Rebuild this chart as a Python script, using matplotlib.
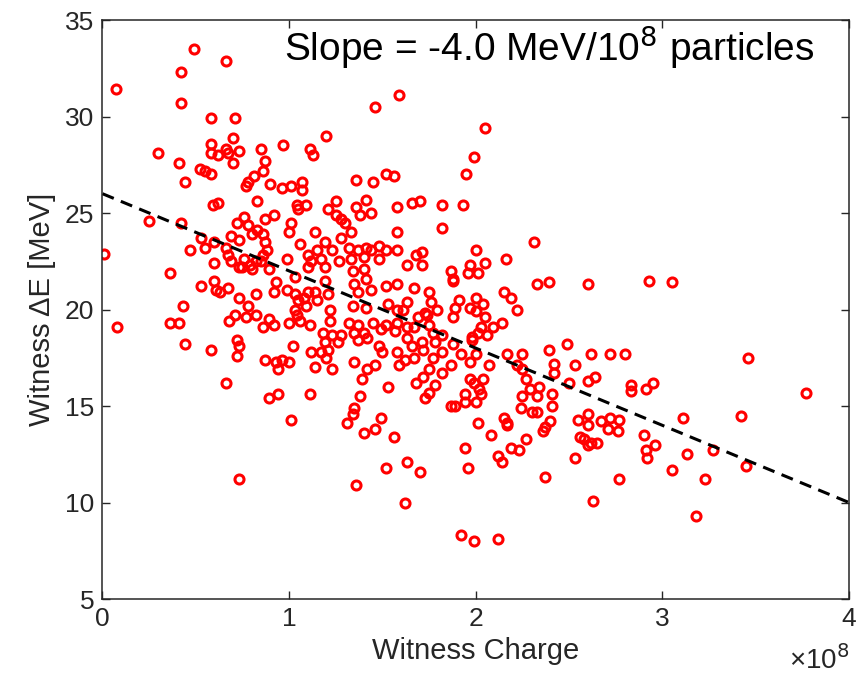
import matplotlib

matplotlib.use("Agg")
import matplotlib.pyplot as plt
import numpy as np

plt.rcParams["font.family"] = ["Liberation Sans", "DejaVu Sans"]

# witness charge (units of 1e8) and energy change (MeV)
charge = [
    0.07, 0.49, 0.66, 0.42, 0.42, 0.58, 0.71, 0.30, 0.41, 0.44, 0.58, 0.70,
    0.58, 0.62, 0.66, 0.67, 0.73, 0.70, 0.52, 0.55, 0.58, 0.85, 0.87, 0.86,
    0.81, 0.78, 0.77, 0.90, 0.96, 1.01, 1.07, 1.07, 0.97, 1.11, 1.13, 1.20,
    0.59, 0.62, 0.83, 1.04, 1.09, 1.05, 1.25, 0.25, 0.42, 0.01, 0.47, 0.36,
    0.53, 0.55, 0.60, 0.60, 0.72, 0.76, 0.78, 0.87, 0.92, 1.01, 1.00, 0.80,
    0.83, 0.86, 0.69, 0.73, 0.66, 0.67, 0.69, 0.73, 0.76, 0.79, 0.82, 0.85,
    0.87, 0.88, 0.86, 0.89, 0.80, 0.75, 0.99, 1.06, 1.03, 1.14, 1.19, 1.23,
    1.15, 1.10, 1.12, 1.17, 1.19, 1.10, 1.27, 1.21, 1.25, 1.28, 1.28, 0.93,
    0.92, 0.99, 1.03, 1.05, 1.08, 1.10, 1.14, 1.15, 1.21, 1.19, 1.03, 1.04,
    1.09, 0.53, 0.60, 0.61, 0.67, 0.63, 0.82, 0.73, 0.78, 0.82, 0.77, 0.71,
    0.68, 0.89, 0.92, 0.86, 1.00, 1.06, 1.11, 1.22, 1.22, 0.43, 0.36, 0.41,
    0.08, 0.44, 0.58, 0.72, 0.73, 0.72, 0.87, 0.93, 0.96, 0.94, 1.00, 1.02,
    1.12, 1.18, 1.23, 1.28, 1.19, 1.21, 1.26, 1.17, 1.20, 1.14, 1.23, 0.66,
    0.89, 0.94, 1.11, 1.01, 0.73,
    1.46, 1.59, 2.05, 1.99, 1.95, 1.36, 1.45, 1.52, 1.56,
    1.36, 1.41, 1.38, 1.44, 1.58, 1.66, 1.70, 1.82, 1.93, 1.30, 1.33, 1.58,
    1.82, 2.31, 2.00, 2.16, 1.32, 1.37, 1.41, 1.44, 1.48, 1.52, 1.58, 1.33,
    1.40, 1.48, 1.63, 1.68, 1.71, 1.71, 1.97, 2.05, 2.01, 1.96, 1.87, 1.88,
    1.88, 1.34, 1.40, 1.41, 1.35, 1.37, 1.44, 1.52, 1.58, 1.67, 1.75, 1.76,
    1.73, 1.79, 2.33, 2.39, 2.60, 2.15, 2.19, 2.22, 1.91, 1.89, 1.88, 2.00,
    1.97, 2.04, 2.00, 2.05, 2.09, 2.03, 2.01, 1.98, 2.06, 2.14, 1.34, 1.41,
    1.53, 1.58, 1.63, 1.61, 1.32, 1.37, 1.35, 1.40, 1.42, 1.37, 1.45, 1.49,
    1.52, 1.58, 1.57, 1.63, 1.67, 1.69, 1.74, 1.75, 1.77, 1.82, 1.63, 1.66,
    1.71, 1.78, 1.48, 1.50, 1.58, 1.62, 1.59, 1.67, 1.72, 1.88, 1.92, 1.98,
    2.00, 1.97, 2.07, 1.87, 1.82, 1.77, 1.75, 1.82, 1.78, 1.72, 1.68, 1.35,
    1.39, 1.46, 1.42, 1.53, 1.97, 1.99, 2.04, 2.02, 2.17, 2.25, 2.22, 2.25,
    2.27, 2.29, 2.34, 2.39, 2.42, 2.49, 2.53, 2.62, 2.42, 2.50, 2.60, 2.64,
    1.38, 1.94, 2.03, 2.25, 2.41,
    1.35, 1.34, 1.31, 1.49, 1.46, 1.40, 1.56, 1.73, 1.75, 1.87, 1.89, 1.94,
    2.00, 2.01, 2.08, 1.94, 1.96, 1.52, 1.63, 1.70, 1.36, 1.62, 1.92, 1.99,
    2.12, 2.15, 2.17, 2.17, 2.24, 2.33, 2.30, 2.33, 2.27, 2.19, 2.23, 2.12,
    2.14, 2.41, 2.40, 2.37, 2.36, 2.37, 2.53, 2.55, 2.60, 2.60, 2.67, 2.56,
    2.58, 2.62, 2.65, 2.60, 2.63,
    2.93, 3.05, 2.72, 2.80, 3.46, 2.83, 2.91, 2.95, 2.83, 3.77,
    2.72, 2.77, 2.71, 2.76, 2.90, 2.91, 2.92, 2.96, 3.11, 3.42, 3.13, 3.27,
    3.45, 3.05, 3.23, 2.77, 3.18,
]
delta_e = [
    31.4, 33.5, 32.9, 32.3, 30.7, 29.9, 29.9, 28.1, 27.6, 26.6, 28.6, 28.9,
    28.1, 28.0, 28.3, 28.1, 28.2, 27.6, 27.3, 27.2, 27.0, 28.3, 27.7, 27.2,
    26.9, 26.6, 26.4, 26.5, 26.3, 26.4, 26.6, 26.2, 28.5, 28.3, 28.0, 29.0,
    25.4, 25.5, 25.6, 25.4, 25.4, 25.2, 25.6, 24.6, 24.5, 22.9, 23.1, 21.9,
    23.7, 23.2, 23.5, 22.4, 24.5, 24.8, 24.4, 24.7, 24.9, 24.5, 24.0, 23.9,
    24.1, 23.9, 23.8, 23.6, 23.2, 22.8, 22.5, 22.2, 22.6, 22.3, 22.5, 22.5,
    23.5, 23.1, 22.8, 22.1, 22.1, 22.2, 22.6, 23.4, 21.7, 24.0, 23.5, 23.1,
    23.1, 22.8, 22.5, 22.6, 22.2, 22.2, 22.5, 25.2, 24.9, 24.7, 23.7, 21.4,
    20.9, 21.0, 20.8, 20.5, 20.6, 20.9, 20.9, 20.5, 20.8, 21.5, 20.0, 19.7,
    20.2, 21.2, 21.5, 21.0, 21.1, 20.9, 20.8, 20.6, 20.2, 19.7, 19.6, 19.7,
    19.4, 19.5, 19.2, 19.1, 19.3, 19.4, 19.2, 20.0, 19.4, 20.2, 19.3, 19.3,
    19.1, 18.2, 17.9, 18.4, 18.1, 17.6, 17.4, 17.3, 17.4, 16.9, 17.3, 18.1,
    17.8, 18.8, 18.7, 18.7, 18.3, 17.9, 18.3, 17.8, 17.5, 17.0, 16.9, 16.2,
    15.4, 15.6, 15.6, 14.3, 11.2,
    30.5, 31.1, 29.4, 27.9, 27.0, 26.7, 26.6, 27.0, 26.9,
    25.3, 25.7, 24.9, 25.0, 25.3, 25.5, 25.6, 25.4, 25.4, 24.5, 24.0, 24.0,
    24.2, 23.5, 23.1, 22.6, 23.2, 23.1, 23.2, 23.1, 23.3, 23.1, 23.1, 22.6,
    22.7, 22.6, 22.3, 22.8, 23.0, 22.3, 22.3, 22.4, 21.9, 21.9, 22.0, 21.6,
    21.5, 22.0, 22.1, 21.6, 21.3, 20.9, 21.0, 21.2, 21.3, 21.1, 20.9, 20.4,
    19.8, 20.0, 21.3, 21.4, 21.3, 20.9, 20.6, 20.0, 20.5, 20.1, 19.6, 20.6,
    20.1, 20.3, 19.9, 19.6, 19.1, 19.1, 18.8, 18.4, 18.7, 19.3, 20.2, 20.1,
    20.3, 20.0, 20.4, 20.0, 19.3, 19.2, 18.8, 18.8, 18.5, 18.4, 19.3, 19.0,
    19.2, 19.3, 18.9, 19.1, 19.1, 19.6, 19.7, 19.2, 18.8, 18.7, 18.5, 18.1,
    18.3, 18.3, 18.1, 17.8, 17.8, 17.4, 17.1, 17.5, 17.9, 18.2, 17.7, 18.6,
    17.7, 17.3, 17.1, 17.1, 17.8, 17.5, 16.9, 16.7, 16.1, 16.5, 16.2, 17.3,
    16.4, 17.1, 16.9, 16.0, 16.4, 16.2, 16.4, 15.9, 17.7, 17.7, 17.1, 16.9,
    16.4, 15.9, 16.0, 17.9, 17.2, 18.2, 17.1, 17.7, 16.7, 16.2, 16.3, 16.5,
    15.5, 15.6, 15.6, 15.5, 15.6,
    14.9, 14.6, 14.1, 14.4, 13.8, 13.6, 13.4, 15.4, 15.7, 15.0, 15.0, 15.2,
    15.2, 14.1, 13.5, 12.8, 11.8, 11.8, 12.1, 11.6, 10.9, 10.0, 8.3, 8.0,
    8.1, 14.4, 14.1, 14.0, 14.9, 15.5, 14.7, 14.7, 13.3, 12.8, 12.7, 12.4,
    12.1, 15.0, 14.2, 13.9, 13.7, 11.3, 12.3, 14.3, 14.6, 14.0, 14.2, 13.4,
    13.3, 13.1, 13.1, 13.0, 10.1,
    21.5, 21.4, 17.7, 17.7, 17.5, 16.1, 15.9, 16.2, 15.8, 15.7,
    14.4, 14.3, 13.8, 13.7, 13.5, 12.7, 12.3, 13.0, 14.4, 14.5, 12.5, 12.7,
    11.9, 11.7, 11.2, 11.2, 9.3,
]

# fitted trend
slope = -4.0
intercept = 26.0
fit_x = np.array([0.0, 4.0])

x_ticks = [0, 1, 2, 3, 4]
y_ticks = [5, 10, 15, 20, 25, 30, 35]

fig = plt.figure(figsize=(8.64, 6.81), dpi=100)
ax = fig.add_axes([0.1186, 0.1204, 0.8640, 0.8502])

ax.plot(charge, delta_e, "o", color="red", markerfacecolor="none",
        markersize=6.5, markeredgewidth=2.2, linestyle="none")
ax.plot(fit_x, intercept + slope * fit_x, "--", color="black",
        linewidth=2.2, dashes=(4, 2.5))

ax.set_xlim(0, 4)
ax.set_ylim(5, 35)
ax.set_xticks(x_ticks)
ax.set_yticks(y_ticks)
ax.tick_params(direction="in", length=6, width=1, top=True, right=True,
               labelsize=19, colors="#262626", pad=6)
for s in ax.spines.values():
    s.set_color("#262626")
    s.set_linewidth(1.1)

ax.set_xlabel("Witness Charge", fontsize=21, color="#262626", labelpad=4)
ax.set_ylabel("Witness ΔE [MeV]", fontsize=21, color="#262626", labelpad=6)
ax.text(1.0, -0.08, "×10$^8$", transform=ax.transAxes, ha="right",
        va="top", fontsize=20, color="#262626")

ax.text(0.599, 0.953, "Slope = -4.0 MeV/10$^8$ particles",
        transform=ax.transAxes, ha="center", va="center", fontsize=28)

plt.savefig("out.png", dpi=100)
